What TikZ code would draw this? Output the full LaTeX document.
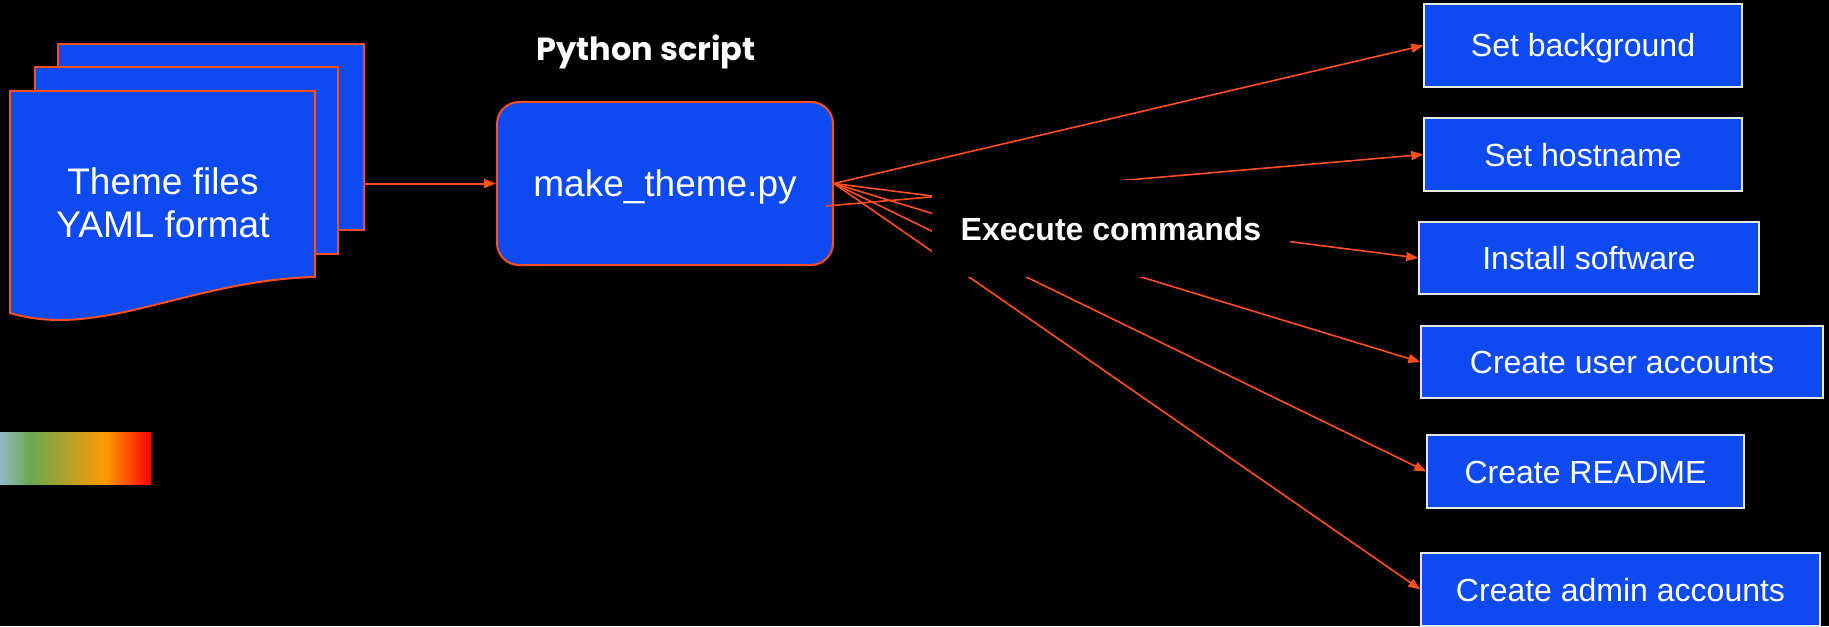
\documentclass[tikz,border=0pt]{standalone}
\usepackage{fontspec}
\setmainfont{Liberation Sans}
\newfontfamily\titlefont{Poppins}
\usetikzlibrary{arrows.meta,backgrounds}

\definecolor{themeblue}{HTML}{0D4AF0}
\definecolor{wire}{HTML}{FF4F1F}
\definecolor{boxedge}{HTML}{E8E8E8}
\definecolor{barblue}{HTML}{93B9C7}
\definecolor{bargreen}{HTML}{6AA84F}
\definecolor{barorange}{HTML}{FF9900}
\definecolor{barred}{HTML}{FF0000}

\pgfdeclarehorizontalshading{heatbar}{100bp}{color(0bp)=(barblue); color(25bp)=(barblue); color(35bp)=(bargreen); color(60bp)=(barorange); color(75bp)=(barred); color(100bp)=(barred)}

\pgfdeclarelayer{front}
\pgfsetlayers{background,main,front}

\tikzset{
  sheet/.style={draw=wire, fill=themeblue, line width=1pt},
  script/.style={draw=wire, fill=themeblue, line width=1pt, rounded corners=11pt,
    text=white, text height=13.25pt, text depth=0pt, font=\fontsize{18.5}{22}\selectfont},
  task/.style={draw=boxedge, fill=themeblue, line width=0.7pt, inner sep=0pt,
    text=white, text height=11.5pt, text depth=0pt, font=\fontsize{16}{19}\selectfont},
  link/.style={-{Triangle[length=6pt,width=4.5pt]}, draw=wire, line width=0.8pt},
}

\begin{document}
\begin{tikzpicture}[x=0.5pt, y=-0.5pt]
  \useasboundingbox (0, 0) rectangle (1829, 626);
  \fill[black] (0, 0) rectangle (1829, 626);

  % theme files
  \node (sheet3) at (211, 137) [sheet, minimum width=153pt, minimum height=93pt] {};
  \node (sheet2) at (186.5, 160.5) [sheet, minimum width=151.5pt, minimum height=93.5pt] {};
  \draw[sheet] (10, 91) -- (315, 91) -- (315, 277) .. controls (190, 280) and (100, 340) .. (10, 313) -- cycle;
  \node (themes) at (163, 203) [align=center, text=white, font=\fontsize{18.5}{21.5}\selectfont] {Theme files\\YAML format};

  \node (heat) at (75.5, 458) [shading=heatbar, minimum width=75.5pt, minimum height=26pt, inner sep=0pt] {};

  % script
  \node (title) at (646, 52) [text=white, font=\titlefont\bfseries\fontsize{16}{19}\selectfont] {Python script};
  \node (make) at (665, 183.5) [script, minimum width=168pt, minimum height=81.5pt] {make\_theme.py};
  \coordinate (make-low) at (826, 206);

  % tasks
  \node (background) at (1583, 45.5) [task, minimum width=159pt, minimum height=41.5pt] {Set background};
  \node (hostname) at (1583, 154.5) [task, minimum width=159pt, minimum height=36.5pt] {Set hostname};
  \node (install) at (1589, 258) [task, minimum width=170pt, minimum height=36pt] {Install software};
  \node (users) at (1622, 362) [task, minimum width=201pt, minimum height=36pt] {Create user accounts};
  \node (readme) at (1585.5, 471.5) [task, minimum width=158.5pt, minimum height=36.5pt] {Create README};
  \node (admins) at (1620.5, 589.5) [task, minimum width=199.5pt, minimum height=36.5pt] {Create admin accounts};

  \draw[link, line width=1pt] (sheet3.east |- make.west) -- (make.west);
  \draw[link] (make.east) -- (background.west);
  \draw[link] (make-low) -- (hostname.west);
  \foreach \t in {install, users, readme, admins}
    \draw[link] (make.east) -- (\t.west);

  \begin{pgfonlayer}{front}
    \node (execute) at (1111, 228.5) [fill=black, minimum width=179pt, minimum height=48.5pt,
      text=white, text height=11.5pt, text depth=0pt, font=\bfseries\fontsize{16}{19}\selectfont] {Execute commands};
  \end{pgfonlayer}
\end{tikzpicture}
\end{document}
